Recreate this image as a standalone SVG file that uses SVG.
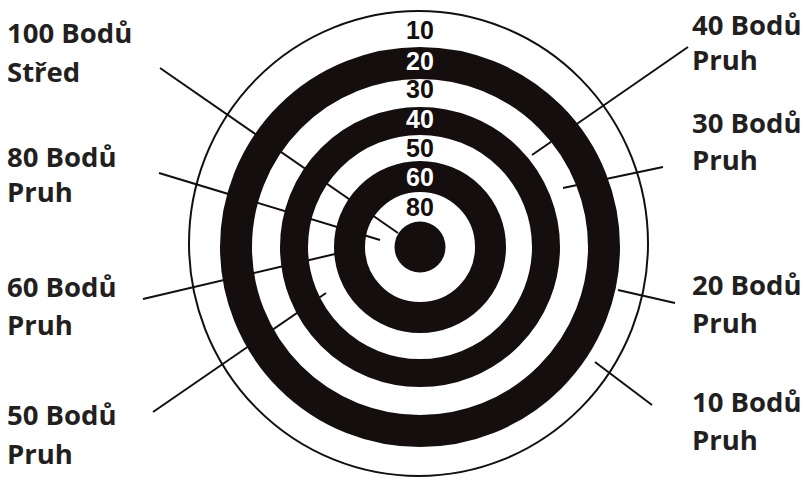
<svg xmlns="http://www.w3.org/2000/svg" width="808" height="481" viewBox="0 0 808 481">
<style>
.lbl{font-family:"Open Sans","Noto Sans",sans-serif;font-weight:bold;font-size:27.5px;fill:#231f20}
.num{font-family:"Liberation Sans",Arial,sans-serif;font-weight:bold;font-size:25px;text-anchor:middle}
.blk{fill:#fff;}
.wht{fill:#140e0e;}
.ring{fill:none;stroke:#140e0e}
.lead{stroke:#140e0e;stroke-width:2;fill:none}
</style>
<rect width="808" height="481" fill="#fff"/>
<g id="target">
<ellipse cx="418.5" cy="243.5" rx="229.5" ry="232.5" fill="none" stroke="#140e0e" stroke-width="2"/>
<circle class="ring" cx="420" cy="247" r="184" stroke-width="32"/>
<circle class="ring" cx="420" cy="247" r="126" stroke-width="28"/>
<circle class="ring" cx="420" cy="247" r="70.5" stroke-width="31"/>
<circle cx="420" cy="247" r="25.5" fill="#140e0e"/>
</g>
<g id="connectors">
<line class="lead" x1="160" y1="68" x2="398" y2="233"/>
<line class="lead" x1="159" y1="173" x2="380" y2="240"/>
<line class="lead" x1="143" y1="299" x2="335" y2="254"/>
<line class="lead" x1="153" y1="412" x2="326" y2="293"/>
<line class="lead" x1="688" y1="47" x2="532" y2="155"/>
<line class="lead" x1="663" y1="167" x2="563" y2="188"/>
<line class="lead" x1="618" y1="290" x2="675" y2="303"/>
<line class="lead" x1="595" y1="362" x2="652" y2="405"/>
</g>
<g id="numbers">
<text class="num wht" x="420" y="39">10</text>
<text class="num blk" x="420" y="70">20</text>
<text class="num wht" x="420" y="98">30</text>
<text class="num blk" x="420" y="128">40</text>
<text class="num wht" x="420" y="157">50</text>
<text class="num blk" x="420" y="186">60</text>
<text class="num wht" x="420" y="216">80</text>
</g>
<g id="label-100"><text class="lbl" x="7" y="43">100 Bodů</text><text class="lbl" x="7" y="82">Střed</text></g>
<g id="label-80"><text class="lbl" x="7" y="167">80 Bodů</text><text class="lbl" x="7" y="202">Pruh</text></g>
<g id="label-60"><text class="lbl" x="7" y="297">60 Bodů</text><text class="lbl" x="7" y="335">Pruh</text></g>
<g id="label-50"><text class="lbl" x="7" y="425">50 Bodů</text><text class="lbl" x="7" y="464">Pruh</text></g>
<g id="label-40"><text class="lbl" x="692" y="35">40 Bodů</text><text class="lbl" x="692" y="70">Pruh</text></g>
<g id="label-30"><text class="lbl" x="692" y="133">30 Bodů</text><text class="lbl" x="692" y="170">Pruh</text></g>
<g id="label-20"><text class="lbl" x="692" y="295">20 Bodů</text><text class="lbl" x="692" y="333">Pruh</text></g>
<g id="label-10"><text class="lbl" x="692" y="412">10 Bodů</text><text class="lbl" x="692" y="450">Pruh</text></g>
</svg>
